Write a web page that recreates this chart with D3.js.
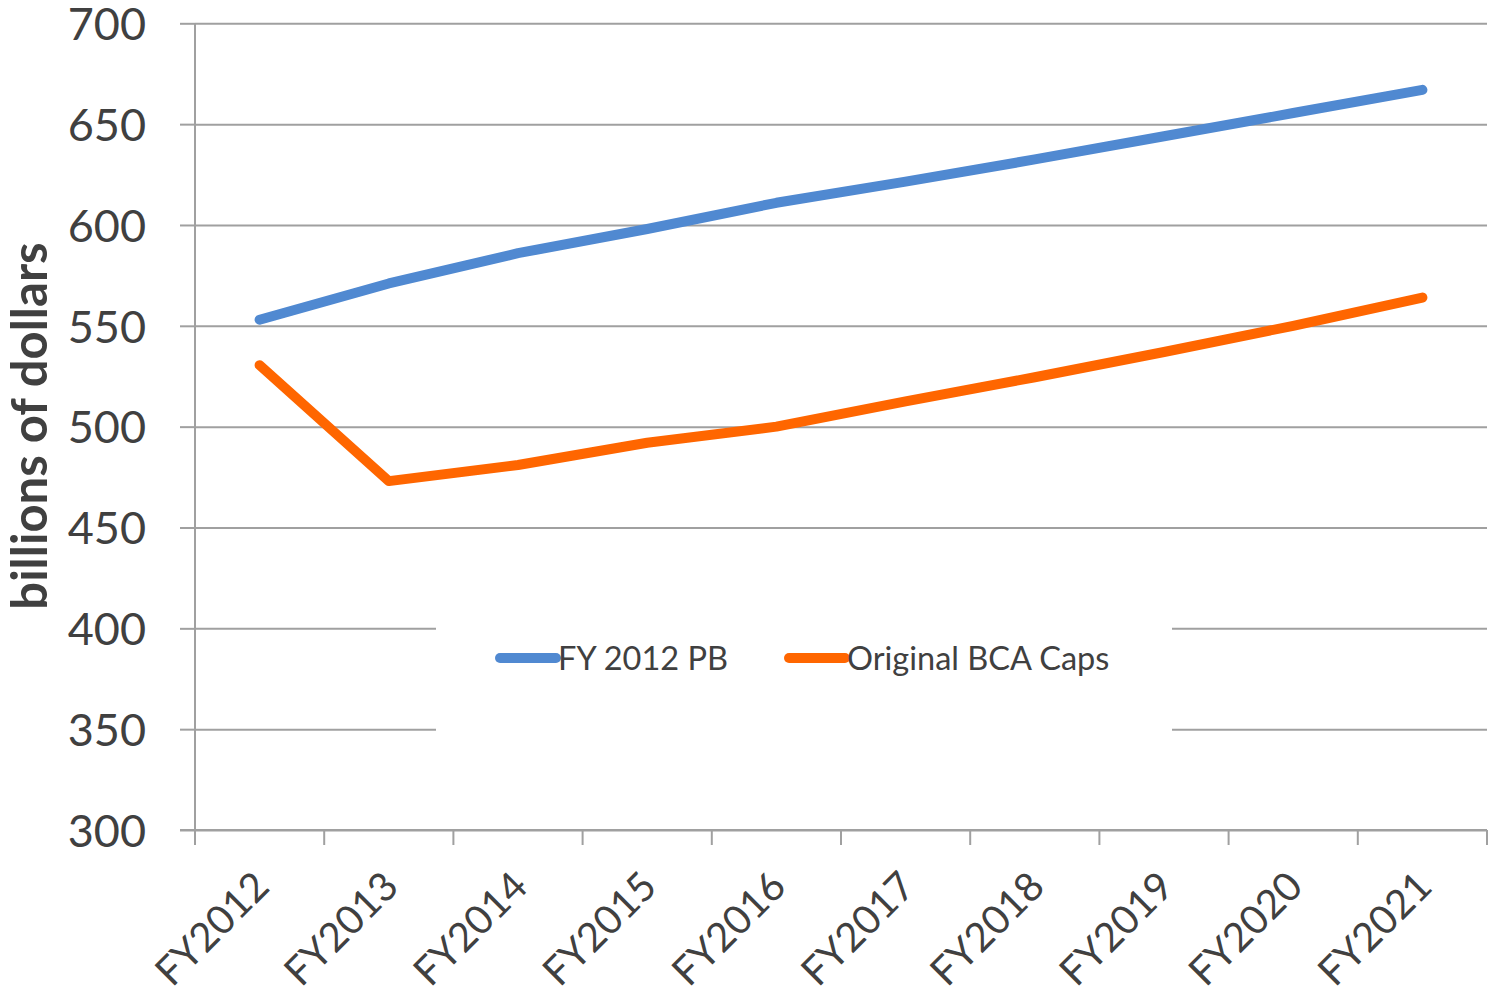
<!DOCTYPE html>
<html>
<head>
<meta charset="utf-8">
<script src="https://cdn.jsdelivr.net/npm/d3@7"></script>
<style>
  body { margin: 0; background: #fff; }
  svg text { font-family: Lato, "Open Sans", sans-serif; fill: #404040; }
  .grid line { stroke: #a0a0a0; stroke-width: 2; }
  .grid .domain { display: none; }
  .axis line, .axis path { stroke: #a0a0a0; stroke-width: 2; }
</style>
</head>
<body>
<div id="chart"></div>
<script>
const categories = ['FY2012', 'FY2013', 'FY2014', 'FY2015', 'FY2016',
  'FY2017', 'FY2018', 'FY2019', 'FY2020', 'FY2021'];
const pbValues = [553, 571, 586, 598, 611, 621.5, 632.5, 644, 655.5, 667];
const bcaValues = [530.5, 473, 481, 492, 500, 512.5, 524.5, 537, 550, 564];
const yTicks = [300, 350, 400, 450, 500, 550, 600, 650, 700];
const seriesNames = ['FY 2012 PB', 'Original BCA Caps'];
const seriesColors = ['#5089d1', '#ff6600'];

const W = 1489, H = 997;
const plot = { left: 195, right: 1487, top: 23.3, bottom: 830 };

const svg = d3.select('#chart').append('svg')
  .attr('width', W)
  .attr('height', H);

const x = d3.scaleBand().domain(categories).range([plot.left, plot.right]);
const y = d3.scaleLinear().domain([300, 700]).range([plot.bottom, plot.top]);

// gridlines
svg.append('g')
  .attr('class', 'grid')
  .attr('transform', `translate(${plot.left},0)`)
  .call(d3.axisLeft(y).tickValues(yTicks).tickSize(-(plot.right - plot.left)).tickFormat(''));

// y axis
const yAxis = svg.append('g')
  .attr('class', 'axis')
  .attr('transform', `translate(${plot.left},0)`)
  .call(d3.axisLeft(y).tickValues(yTicks).tickSize(15).tickPadding(34));
yAxis.select('.domain').remove();
yAxis.selectAll('text').style('font-size', '45px').attr('dy', '0.36em');
yAxis.append('line')
  .attr('x1', 0).attr('x2', 0)
  .attr('y1', plot.top).attr('y2', plot.bottom + 15);

// x axis
const xAxis = svg.append('g')
  .attr('class', 'axis')
  .attr('transform', `translate(0,${plot.bottom})`);
xAxis.append('line')
  .attr('x1', plot.left - 15).attr('x2', plot.right)
  .attr('y1', 0).attr('y2', 0);
xAxis.selectAll('.tk')
  .data(categories.map((c) => x(c)).concat([plot.right]))
  .join('line')
  .attr('class', 'tk')
  .attr('x1', (d) => d).attr('x2', (d) => d)
  .attr('y1', 0).attr('y2', 15);
xAxis.selectAll('.lbl')
  .data(categories)
  .join('text')
  .attr('class', 'lbl')
  .attr('text-anchor', 'end')
  .attr('transform', (d) => `translate(${x(d) + x.bandwidth() / 2 - 8},${39}) rotate(-45)`)
  .attr('dy', '0.7em')
  .style('font-size', '40px')
  .text((d) => d);

// y title
svg.append('text')
  .attr('transform', `translate(47,${426}) rotate(-90)`)
  .attr('text-anchor', 'middle')
  .style('font-size', '49px')
  .style('font-weight', 'bold')
  .text('billions of dollars');

// lines
const line = d3.line()
  .x((d, i) => x(categories[i]) + x.bandwidth() / 2)
  .y((d) => y(d));

[pbValues, bcaValues].forEach((vals, i) => {
  svg.append('path')
    .datum(vals)
    .attr('fill', 'none')
    .attr('stroke', seriesColors[i])
    .attr('stroke-width', 10)
    .attr('stroke-linecap', 'round')
    .attr('stroke-linejoin', 'round')
    .attr('d', line);
});

// legend
const legend = svg.append('g');
legend.append('rect')
  .attr('x', 436).attr('y', 600)
  .attr('width', 1172 - 436).attr('height', 150)
  .attr('fill', '#fff');
const legendX = [500, 789];
seriesNames.forEach((name, i) => {
  legend.append('line')
    .attr('x1', legendX[i]).attr('x2', legendX[i] + 56)
    .attr('y1', 658).attr('y2', 658)
    .attr('stroke', seriesColors[i])
    .attr('stroke-width', 10)
    .attr('stroke-linecap', 'round');
  legend.append('text')
    .attr('x', legendX[i] + 58)
    .attr('y', 658)
    .attr('dy', '0.36em')
    .style('font-size', '32.5px')
    .text(name);
});
</script>
</body>
</html>
